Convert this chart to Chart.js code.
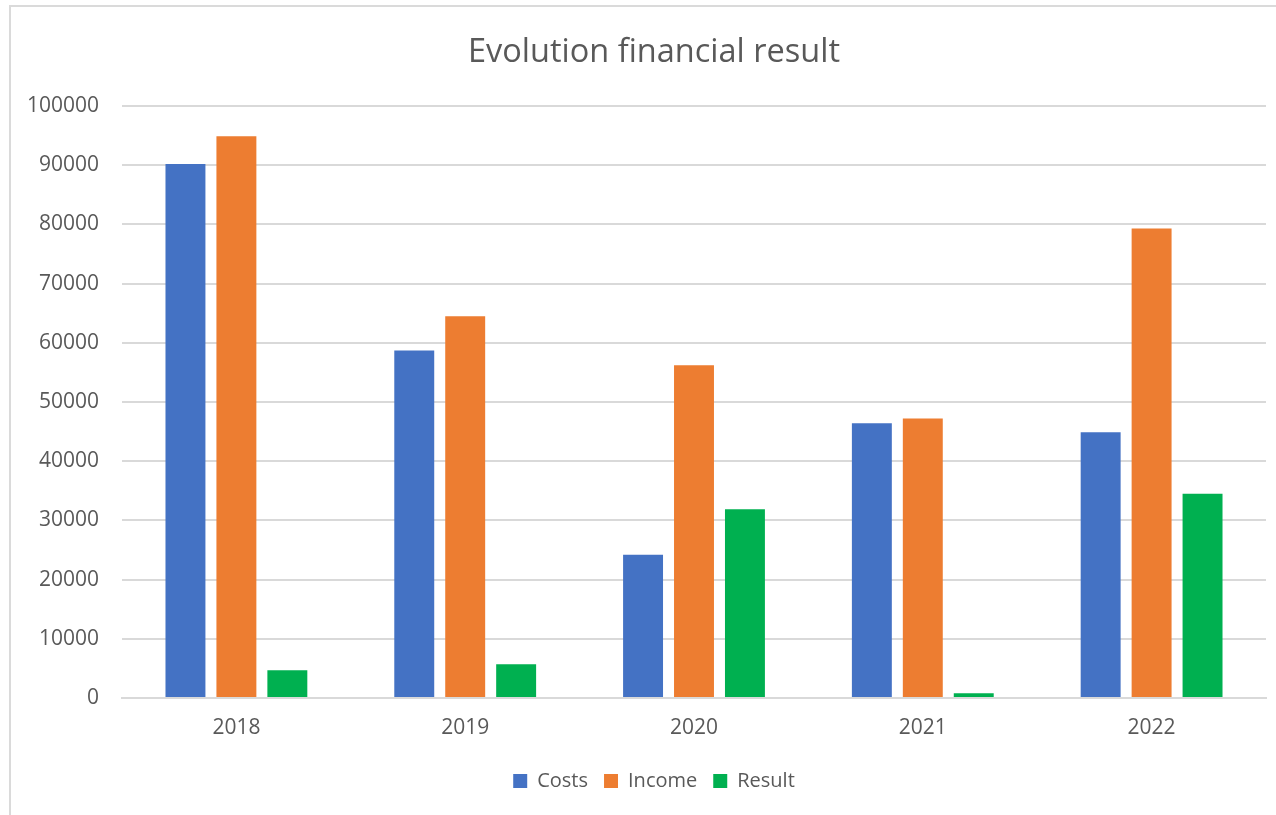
<!DOCTYPE html>
<html>
<head>
<meta charset="utf-8">
<script src="https://cdn.jsdelivr.net/npm/chart.js@4/dist/chart.umd.min.js"></script>
<style>
  html, body { margin: 0; padding: 0; background: #fff; overflow: hidden; width: 1276px; height: 815px; }
  #frame {
    position: absolute; left: 9px; top: 5px; width: 1300px; height: 900px;
    border-left: 2px solid #dadada; border-top: 2px solid #dadada;
  }
  #wrap { position: absolute; left: 0; top: 0; width: 1308px; height: 815px; }
</style>
</head>
<body>
<div id="frame"></div>
<div id="wrap"><canvas id="chart"></canvas></div>
<script>
// datos
const years = ['2018', '2019', '2020', '2021', '2022'];
const costs = [90200, 58700, 24200, 46400, 44900];
const income = [94900, 64500, 56200, 47200, 79300];
const result = [4700, 5700, 31900, 800, 34500];

const textColor = '#595959';
const fontFamily = '"Open Sans", "Noto Sans", sans-serif';

const ctx = document.getElementById('chart').getContext('2d');
new Chart(ctx, {
    type: 'bar',
    data: {
        labels: years,
        datasets: [
            { label: 'Costs', data: costs, backgroundColor: '#4472C4' },
            { label: 'Income', data: income, backgroundColor: '#ED7D31' },
            { label: 'Result', data: result, backgroundColor: '#00B050' }
        ]
    },
    options: {
        responsive: true,
        maintainAspectRatio: false,
        animation: false,
        categoryPercentage: 0.668,
        barPercentage: 0.784,
        layout: { padding: { left: 10, right: 10, top: 6, bottom: 14 } },
        scales: {
            x: {
                afterFit: (s) => { s.height = 57; },
                grid: { display: false, drawTicks: false },
                border: { color: '#d9d9d9', width: 2 },
                ticks: { color: textColor, font: { family: fontFamily, size: 21 }, padding: 17 }
            },
            y: {
                min: 0,
                max: 100000,
                afterFit: (s) => { s.width = 112; },
                grid: { color: '#d9d9d9', lineWidth: 2, drawTicks: false },
                border: { display: false },
                ticks: {
                    stepSize: 10000,
                    color: textColor,
                    font: { family: fontFamily, size: 21 },
                    padding: 23,
                    callback: (v) => String(v)
                }
            },
            // eje vacío: el gráfico original sigue a la derecha, fuera del recorte
            yRight: {
                type: 'linear',
                position: 'right',
                afterFit: (s) => { s.width = 32; },
                grid: { display: false, drawTicks: false },
                border: { display: false },
                ticks: { display: false }
            }
        },
        plugins: {
            title: {
                display: true,
                text: 'Evolution financial result',
                color: textColor,
                font: { family: fontFamily, size: 32.5, weight: 'normal' },
                padding: { top: 27, bottom: 34 }
            },
            legend: {
                position: 'bottom',
                labels: {
                    color: textColor,
                    font: { family: fontFamily, size: 20 },
                    boxWidth: 14,
                    boxHeight: 14,
                    padding: 16
                }
            },
            tooltip: { enabled: false }
        }
    }
});
</script>
</body>
</html>
